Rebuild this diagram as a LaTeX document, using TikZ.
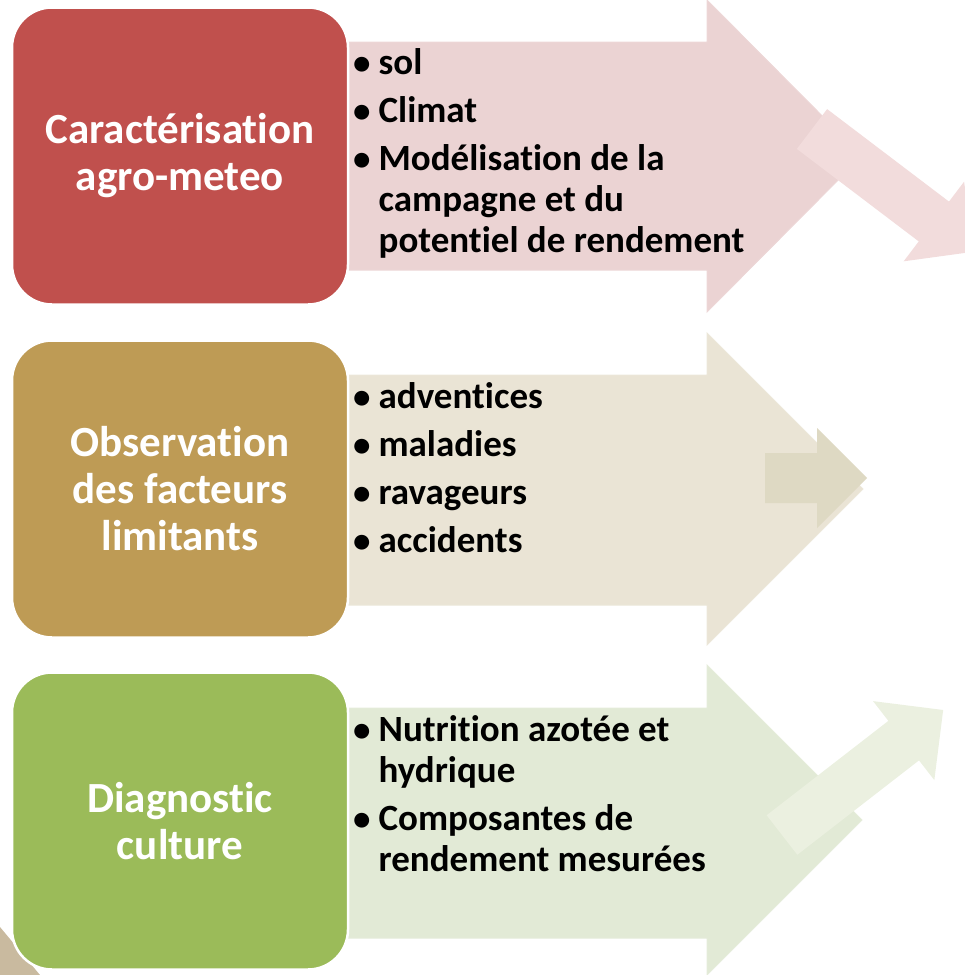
\documentclass[tikz,border=0pt]{standalone}
\usepackage{fontspec}
\setmainfont{Carlito}[Ligatures=NoCommon]
\usetikzlibrary{positioning}
\definecolor{AgroRed}{HTML}{C0504D}
\definecolor{AgroTan}{HTML}{BE9B55}
\definecolor{AgroGreen}{HTML}{9BBB59}
\definecolor{RedLight}{HTML}{EBD3D3}
\definecolor{RedPale}{HTML}{F2DCDC}
\definecolor{TanLight}{HTML}{EAE4D5}
\definecolor{TanDark}{HTML}{DED9C3}
\definecolor{GreenLight}{HTML}{E2EAD6}
\definecolor{GreenPale}{HTML}{EBF0E0}
\definecolor{CornerTan}{HTML}{C9BA9F}

\newcommand{\bul}{{\fontsize{35}{41}\selectfont\textbullet}}

\tikzset{
  stagebox/.style={fill=#1,draw=white,line width=2.5pt,rounded corners=40pt,
    minimum width=336pt,minimum height=297pt,text=white,align=center,
    font=\fontsize{43}{47}\selectfont\bfseries},
  bigarrow/.style={fill=#1,draw=#1!90!white,line width=1pt},
  smallarrow/.style={fill=#1},
  itemlist/.style={anchor=north west,inner sep=0pt,align=left,
    font=\fontsize{37}{41}\selectfont\bfseries}
}

\begin{document}
\begin{tikzpicture}[x=1pt,y=-1pt]
  \useasboundingbox (0,0) rectangle (965,975);

  % corner piece
  \fill[CornerTan] (0,927) -- (40,975) -- (0,975) -- cycle;

  % big arrows
  \draw[bigarrow=RedLight] (340,42) -- (707,42) -- (707,0) -- (862,156)
    -- (707,312) -- (707,270) -- (340,270) -- cycle;
  \draw[bigarrow=TanLight] (340,375) -- (707,375) -- (707,333) -- (863,489)
    -- (707,645) -- (707,605) -- (340,605) -- cycle;
  \draw[bigarrow=GreenLight] (340,708) -- (707,708) -- (707,665) -- (862,820)
    -- (707,975) -- (707,938) -- (340,938) -- cycle;

  % small arrows
  \begin{scope}[shift={(812,129)},rotate=-37.2]
    \fill[smallarrow=RedPale] (0,-25) -- (153,-25) -- (153,-50) -- (203,0)
      -- (153,50) -- (153,25) -- (0,25) -- cycle;
  \end{scope}
  \begin{scope}[shift={(765,478)}]
    \fill[smallarrow=TanDark] (0,-25) -- (52,-25) -- (52,-50) -- (102,0)
      -- (52,50) -- (52,25) -- (0,25) -- cycle;
  \end{scope}
  \begin{scope}[shift={(782,835)},rotate=37.8]
    \fill[smallarrow=GreenPale] (0,-25) -- (154,-25) -- (154,-50) -- (204,0)
      -- (154,50) -- (154,25) -- (0,25) -- cycle;
  \end{scope}

  % stage boxes
  \node[stagebox=AgroRed] (caracBox) at (180,156) {Caractérisation\\agro-meteo};
  \node[stagebox=AgroTan] (obsBox) at (180,489) {Observation\\des facteurs\\limitants};
  \node[stagebox=AgroGreen] (diagBox) at (180,821) {Diagnostic\\culture};

  % item lists
  \node[itemlist] (caracList) at (353,46) {%
    \begin{tabular}{@{}l@{\hspace{8pt}}l@{}}
      \bul & sol\\[7pt]
      \bul & Climat\\[7pt]
      \bul & Modélisation de la\\
           & campagne et du\\
           & potentiel de rendement
    \end{tabular}};
  \node[itemlist] (obsList) at (353,380) {%
    \begin{tabular}{@{}l@{\hspace{8pt}}l@{}}
      \bul & adventices\\[7pt]
      \bul & maladies\\[7pt]
      \bul & ravageurs\\[7pt]
      \bul & accidents
    \end{tabular}};
  \node[itemlist] (diagList) at (353,713) {%
    \begin{tabular}{@{}l@{\hspace{8pt}}l@{}}
      \bul & Nutrition azotée et\\
           & hydrique\\[7pt]
      \bul & Composantes de\\
           & rendement mesurées
    \end{tabular}};
\end{tikzpicture}
\end{document}
